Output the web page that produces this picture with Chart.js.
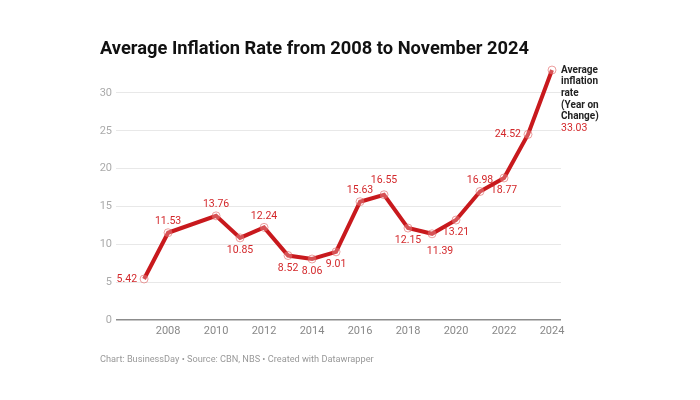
<!DOCTYPE html>
<html>
<head>
<meta charset="utf-8">
<script src="https://cdn.jsdelivr.net/npm/chart.js@4/dist/chart.umd.min.js"></script>
<style>
  body { margin: 0; background: #fff; }
  canvas { display: block; }
</style>
</head>
<body>
<canvas id="chart" width="700" height="400"></canvas>
<script>
// data
const years = [2007, 2008, 2010, 2011, 2012, 2013, 2014, 2015, 2016, 2017, 2018, 2019, 2020, 2021, 2022, 2023, 2024];
const inflation = [5.42, 11.53, 13.76, 10.85, 12.24, 8.52, 8.06, 9.01, 15.63, 16.55, 12.15, 11.39, 13.21, 16.98, 18.77, 24.52, 33.03];
const xTicks = [2008, 2010, 2012, 2014, 2016, 2018, 2020, 2022, 2024];
const yTicks = [0, 5, 10, 15, 20, 25, 30];
// where each value label sits next to its point
const labelSide = ['left', 'top', 'top', 'bottom', 'top', 'bottom', 'bottom', 'bottom', 'top', 'topHigh',
  'bottom', 'bottomRight', 'bottom', 'top', 'bottom', 'left', 'end'];
const seriesName = ['Average', 'inflation', 'rate', '(Year on', 'Change)'];

const RED = '#c8191d';
const LABEL_RED = '#d3282b';

const labels = {
  id: 'labels',
  afterDatasetsDraw(chart) {
    const ctx = chart.ctx;
    const meta = chart.getDatasetMeta(0);
    ctx.save();
    ctx.font = '10.5px Roboto';
    ctx.fillStyle = LABEL_RED;
    meta.data.forEach((pt, i) => {
      const txt = inflation[i].toFixed(2);
      const side = labelSide[i];
      let x = pt.x, y = pt.y;
      ctx.textBaseline = 'middle';
      ctx.textAlign = 'center';
      if (side == 'top') { y -= 11; }
      else if (side == 'topHigh') { y -= 14; }
      else if (side == 'bottom') { y += 12.5; }
      else if (side == 'left') { ctx.textAlign = 'right'; x -= 7; }
      else if (side == 'bottomRight') { x += 8; y += 18; }
      else if (side == 'end') {
        ctx.textAlign = 'left';
        ctx.fillStyle = '#222';
        ctx.font = 'bold 10px Roboto';
        seriesName.forEach((s, k) => ctx.fillText(s, x + 9, y + k * 11.7));
        ctx.fillStyle = LABEL_RED;
        ctx.font = '10.5px Roboto';
        ctx.fillText(txt, x + 9, y + seriesName.length * 11.7);
        return;
      }
      ctx.fillText(txt, x, y);
    });
    ctx.restore();
  }
};

const texts = {
  id: 'texts',
  afterDraw(chart) {
    const ctx = chart.ctx;
    ctx.save();
    ctx.textAlign = 'left';
    ctx.textBaseline = 'alphabetic';
    ctx.fillStyle = '#111';
    ctx.font = 'bold 18.3px Roboto';
    ctx.fillText('Average Inflation Rate from 2008 to November 2024', 100, 54);
    ctx.fillStyle = '#999';
    ctx.font = '9.2px Roboto';
    ctx.fillText('Chart: BusinessDay \u2022 Source: CBN, NBS \u2022 Created with Datawrapper', 100, 362);
    ctx.restore();
  }
};

new Chart(document.getElementById('chart'), {
  type: 'line',
  data: {
    datasets: [{
      data: years.map((yr, i) => ({ x: yr, y: inflation[i] })),
      borderColor: RED,
      borderWidth: 4,
      pointRadius: 4,
      pointBorderWidth: 1,
      pointBorderColor: 'rgba(222, 80, 80, 0.55)',
      pointBackgroundColor: 'rgba(255, 255, 255, 0.25)',
      tension: 0,
      clip: false
    }]
  },
  options: {
    responsive: false,
    animation: false,
    layout: { padding: { top: 62.7, right: 139, bottom: 50, left: 0 } },
    plugins: { legend: { display: false }, tooltip: { enabled: false } },
    scales: {
      x: {
        type: 'linear',
        min: 2005.83,
        max: 2024.375,
        afterBuildTicks: s => { s.ticks = xTicks.map(v => ({ value: v })); },
        afterFit: s => { s.height = 30; },
        grid: { display: false, drawTicks: false },
        border: { display: false },
        ticks: {
          callback: v => String(v),
          color: '#888',
          font: { family: 'Roboto', size: 11 },
          padding: 5,
          maxRotation: 0
        }
      },
      y: {
        min: 0,
        max: 34,
        afterBuildTicks: s => { s.ticks = yTicks.map(v => ({ value: v })); },
        afterFit: s => { s.width = 116; },
        grid: {
          drawTicks: false,
          color: c => c.tick.value === 0 ? '#8c8c8c' : '#e8e8e8',
          lineWidth: c => c.tick.value === 0 ? 1.5 : 1
        },
        border: { display: false },
        ticks: {
          color: '#aaa',
          font: { family: 'Roboto', size: 11 },
          padding: 4
        }
      }
    }
  },
  plugins: [labels, texts]
});
</script>
</body>
</html>
